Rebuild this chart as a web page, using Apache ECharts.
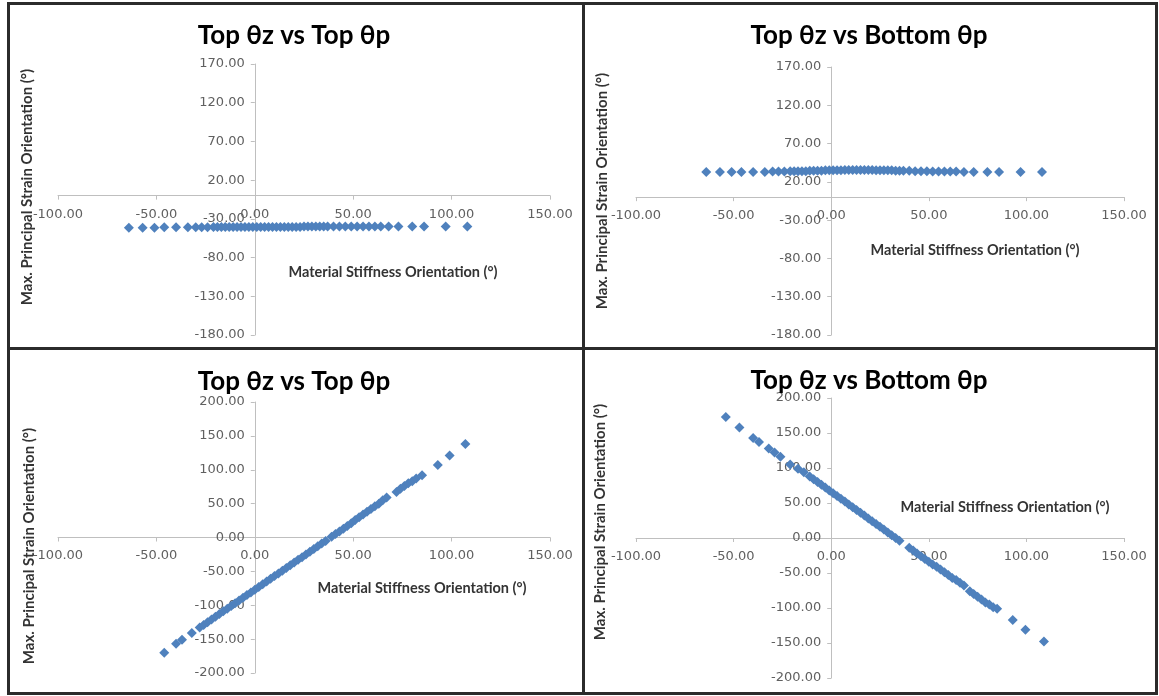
<!DOCTYPE html>
<html>
<head>
<meta charset="utf-8">
<script src="https://cdn.jsdelivr.net/npm/echarts@6/dist/echarts.min.js"></script>
<style>
  html, body { margin: 0; padding: 0; background: #ffffff; }
  #chart { width: 1159px; height: 696px; }
</style>
</head>
<body>
<div id="chart"></div>
<script>
// ---- text ----
const panelTitles = ['Top θz vs Top θp', 'Top θz vs Bottom θp', 'Top θz vs Top θp', 'Top θz vs Bottom θp'];
const xAxisTitle = 'Material Stiffness Orientation (°)';
const yAxisTitle = 'Max. Principal Strain Orientation (°)';

// ---- tick labels ----
const xTickValues = [-100, -50, 0, 50, 100, 150];
const yTickValuesUpper = [-180, -130, -80, -30, 20, 70, 120, 170];
const yTickValuesLower = [-200, -150, -100, -50, 0, 50, 100, 150, 200];

// ---- top θz vs top θp (upper left) ----
const topTopX1 = [-64, -57, -51, -46, -40, -34, -30,
  -27, -24, -21, -19, -17, -15, -13, -11, -9, -7, -5, -3, -1,
  1, 3, 5, 7, 9, 11, 13, 15, 17, 19, 21, 23, 25, 27, 29, 31, 33, 35, 37,
  40, 43, 46, 49, 52, 55, 58, 61, 64, 68,
  73, 80, 86, 97, 108];
const topTopY1 = [-41.5, -41.5, -41.5, -41, -41, -41, -41,
  -41, -41, -40.5, -40.5, -40.5, -40.5, -40.5, -40.5, -40.5, -40.5, -40.5, -40.5, -40.5,
  -40.5, -40.5, -40.5, -40.5, -40.5, -40.5, -40.5, -40.5, -40.5, -40.5, -40.5, -40.5, -40, -40, -40, -40, -40, -40, -40,
  -40, -40, -40, -40, -40, -40, -40, -40, -40, -40,
  -40, -40, -40, -40, -40];

// ---- top θz vs bottom θp (upper right) ----
const topBottomX1 = [-64, -57, -51, -46, -40, -34, -30,
  -27, -24, -21, -19, -17, -15, -13, -11, -9, -7, -5, -3, -1,
  1, 3, 5, 7, 9, 11, 13, 15, 17, 19, 21, 23, 25, 27, 29, 31, 33, 35, 37,
  40, 43, 46, 49, 52, 55, 58, 61, 64, 68,
  73, 80, 86, 97, 108];
const topBottomY1 = [33, 33, 33, 33, 33, 33, 33.5,
  33.5, 33.5, 34, 34, 34, 34, 34, 34.5, 34.5, 34.5, 34.5, 35, 35,
  35, 35, 35, 35.5, 35.5, 35.5, 35.5, 35.5, 35.5, 35.5, 35.5, 35, 35, 35, 35, 35, 34.5, 34.5, 34.5,
  34.5, 34, 34, 34, 33.5, 33.5, 33.5, 33.5, 33.5, 33,
  33, 33, 33, 33, 33];

// ---- top θz vs top θp (lower left) ----
const topTopX2 = [-46, -40, -37, -32, -28, -26, -24, -22, -20, -18, -16, -14, -12, -10, -8, -6, -4, -2, 0, 2, 4, 6, 8, 10, 12, 14, 16, 18, 20, 22, 24, 26, 28, 30, 32, 34, 36, 39, 41, 43, 45, 47, 49, 51, 53, 55, 57, 59, 61, 63, 65, 67, 72, 74, 76, 78, 80, 82, 85, 93, 99, 107];
const topTopY2 = [-170, -157, -151, -141, -133, -129, -125, -121, -117, -113, -109, -105, -101, -97, -93, -89, -85, -81, -77, -73, -69, -65, -61, -57, -53, -49, -45, -41, -37, -33, -29, -25, -21, -17, -13, -9, -5, 1, 5, 9, 13, 17, 21, 26, 30, 34, 38, 42, 46, 50, 55, 59, 67, 72, 76, 80, 83, 87, 92, 107, 121, 138];

// ---- top θz vs bottom θp (lower right) ----
const topBottomX2 = [-54, -47, -40, -37, -32, -29, -26, -21, -17, -14, -11, -9, -7, -5, -3, -1, 1, 3, 5, 7, 9, 11, 13, 15, 17, 19, 21, 23, 25, 27, 29, 31, 33, 35, 40, 42, 44, 46, 48, 50, 52, 54, 56, 58, 60, 62, 64, 66, 68, 71, 73, 75, 77, 79, 81, 83, 85, 93, 99.5, 109];
const topBottomY2 = [173, 158, 143, 137, 128, 122, 116, 105, 99, 94, 88, 84, 80, 76, 72, 68, 64, 60, 56, 52, 48, 44, 40, 36, 32, 28, 24, 20, 16, 12, 8, 4, 0, -4, -14, -18, -22, -26, -30, -34, -38, -41, -45, -49, -53, -57, -60, -64, -68, -76, -80, -84, -88, -92, -95, -99, -101, -117, -131, -148];

// ---- drawing ----
const pairs = (xs, ys) => xs.map((x, i) => [x, ys[i]]);
const seriesData = [
  pairs(topTopX1, topTopY1),
  pairs(topBottomX1, topBottomY1),
  pairs(topTopX2, topTopY2),
  pairs(topBottomX2, topBottomY2)
];
const yTickSets = [yTickValuesUpper, yTickValuesUpper, yTickValuesLower, yTickValuesLower];

// plot rectangles of the four panels
const plotRects = [
  { left: 58, top: 64, width: 492, height: 271 },
  { left: 636, top: 67, width: 488, height: 268 },
  { left: 58, top: 402, width: 492, height: 271 },
  { left: 636, top: 398, width: 488, height: 280 }
];
// panel text anchors: title centre, x-axis title centre, y-axis title centre
const textSpots = [
  { title: [294, 36], xName: [393, 272], yName: [27, 187] },
  { title: [869, 36], xName: [975, 250], yName: [602, 191] },
  { title: [294, 382], xName: [422, 588], yName: [29, 546] },
  { title: [869, 381], xName: [1005, 507], yName: [600, 522] }
];

const axisGray = '#bfbfbf';
const labelStyle = {
  color: '#606060',
  fontFamily: 'DejaVu Sans',
  fontSize: 13,
  formatter: v => v.toFixed(2)
};

// axes cross at zero: shift each axis from the plot edge to the zero of the other axis
const zeroShift = (ticks, size) => {
  const lo = ticks[0], hi = ticks[ticks.length - 1];
  return -((0 - lo) / (hi - lo)) * size;
};

const grids = plotRects.map(r => Object.assign({ containLabel: false }, r));

const xAxes = plotRects.map((r, i) => ({
  type: 'value',
  gridIndex: i,
  position: 'bottom',
  offset: zeroShift(yTickSets[i], r.height),
  min: xTickValues[0],
  max: xTickValues[xTickValues.length - 1],
  interval: xTickValues[1] - xTickValues[0],
  axisLine: { show: true, onZero: false, lineStyle: { color: axisGray, width: 1 } },
  axisTick: { show: true, length: 4, lineStyle: { color: axisGray } },
  axisLabel: Object.assign({ margin: 12 }, labelStyle),
  splitLine: { show: false }
}));

const yAxes = plotRects.map((r, i) => {
  const ticks = yTickSets[i];
  return {
    type: 'value',
    gridIndex: i,
    position: 'left',
    offset: zeroShift(xTickValues, r.width),
    min: ticks[0],
    max: ticks[ticks.length - 1],
    interval: ticks[1] - ticks[0],
    axisLine: { show: true, onZero: false, lineStyle: { color: axisGray, width: 1 } },
    axisTick: { show: true, length: 4, lineStyle: { color: axisGray } },
    axisLabel: Object.assign({ margin: 10 }, labelStyle),
    splitLine: { show: false }
  };
});

const series = seriesData.map((d, i) => ({
  type: 'scatter',
  xAxisIndex: i,
  yAxisIndex: i,
  data: d,
  symbol: 'diamond',
  symbolSize: 10,
  itemStyle: { color: '#4f81bd', opacity: 1 },
  emphasis: { disabled: true },
  animation: false
}));

const graphics = [];
textSpots.forEach((s, i) => {
  graphics.push({
    type: 'text', x: s.title[0], y: s.title[1], z: 10,
    style: {
      text: panelTitles[i], fill: '#000000',
      font: 'bold 26px Lato',
      align: 'center', verticalAlign: 'middle',
      textAlign: 'center', textVerticalAlign: 'middle'
    }
  });
  graphics.push({
    type: 'text', x: s.xName[0], y: s.xName[1], z: 10,
    style: {
      text: xAxisTitle, fill: '#333333',
      font: 'bold 14.5px Lato',
      align: 'center', verticalAlign: 'middle',
      textAlign: 'center', textVerticalAlign: 'middle'
    }
  });
  graphics.push({
    type: 'text', x: s.yName[0], y: s.yName[1], rotation: Math.PI / 2, z: 10,
    style: {
      text: yAxisTitle, fill: '#333333',
      font: 'bold 15px Lato',
      align: 'center', verticalAlign: 'middle',
      textAlign: 'center', textVerticalAlign: 'middle'
    }
  });
});

// frame around the four panels and the dividers between them
const frameColor = '#2b2b2b';
graphics.push({
  type: 'rect', z: 20, silent: true,
  shape: { x: 8.5, y: 3.5, width: 1148, height: 690 },
  style: { fill: 'none', stroke: frameColor, lineWidth: 3 }
});
graphics.push({
  type: 'line', z: 20, silent: true,
  shape: { x1: 583.5, y1: 3.5, x2: 583.5, y2: 693.5 },
  style: { stroke: frameColor, lineWidth: 3 }
});
graphics.push({
  type: 'line', z: 20, silent: true,
  shape: { x1: 8.5, y1: 348.5, x2: 1156.5, y2: 348.5 },
  style: { stroke: frameColor, lineWidth: 3 }
});

const chart = echarts.init(document.getElementById('chart'), null, { renderer: 'canvas' });
chart.setOption({
  animation: false,
  backgroundColor: '#ffffff',
  grid: grids,
  xAxis: xAxes,
  yAxis: yAxes,
  series: series,
  graphic: graphics
});
</script>
</body>
</html>
